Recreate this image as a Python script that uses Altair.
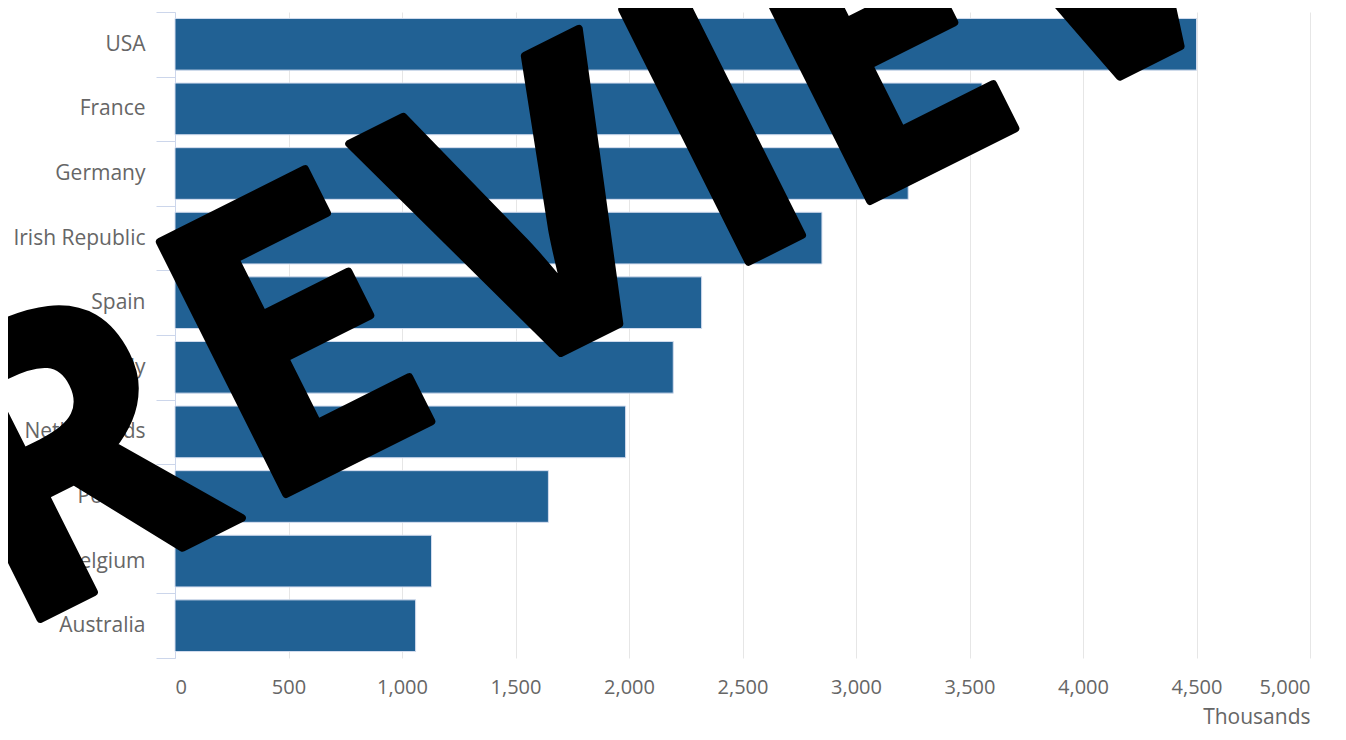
import altair as alt
import pandas as pd

countries = ["USA", "France", "Germany", "Irish Republic", "Spain", "Italy",
             "Netherlands", "Poland", "Belgium", "Australia"]
visits = [4500, 3555, 3230, 2850, 2320, 2195, 1985, 1645, 1130, 1060]

x_ticks = [0, 500, 1000, 1500, 2000, 2500, 3000, 3500, 4000, 4500, 5000]
x_title = "Thousands"

stamp_letters = ["R", "E", "V", "I", "E", "W"]

df = pd.DataFrame({"country": countries, "visits": visits})

FONT = "Open Sans"
GREY = "#666666"
AXISBLUE = "#ccd6eb"
HALF_GAP = 6.46  # half of the inner band gap (0.1 * step)

bars = alt.Chart(df).mark_bar(
    color="#216194", stroke="#d3dcee", strokeWidth=1
).encode(
    x=alt.X("visits:Q",
            scale=alt.Scale(domain=[0, 5000], nice=False, zero=True),
            axis=alt.Axis(values=x_ticks, format=",.0f", title=x_title,
                          grid=True, gridColor="#e6e6e6", gridWidth=1,
                          domain=False, ticks=False, tickSize=0,
                          labelPadding=19, labelFontSize=20, labelColor=GREY,
                          labelFont=FONT, titleFont=FONT, titleFontSize=21,
                          titleColor=GREY, titleFontWeight="normal",
                          titleAnchor="end", titleAlign="right",
                          titlePadding=9)),
    y=alt.Y("country:N", sort=countries,
            scale=alt.Scale(paddingInner=0.2, paddingOuter=0.1),
            axis=alt.Axis(title=None, bandPosition=1, tickExtra=True,
                          tickSize=19,
                          tickOffset=alt.ExprRef(
                              f"datum.extra ? {-HALF_GAP} : {HALF_GAP}"),
                          labelOffset=-HALF_GAP,
                          tickColor=AXISBLUE, domainColor=AXISBLUE,
                          labelPadding=11, labelFontSize=21, labelColor=GREY,
                          labelFont=FONT, grid=False)),
)

# watermark letters: (x offset, y offset from plot origin in px)
stamp_pos = [(-103, 458), (125, 342), (362, 220), (547, 130), (709, 49), (998, -95)]
layers = [bars]
for letter, (px, py) in zip(stamp_letters, stamp_pos):
    layers.append(
        alt.Chart(pd.DataFrame({"t": [letter]})).mark_text(
            font=FONT, fontSize=395, fontWeight="bold", color="black",
            stroke="black", strokeWidth=8, strokeJoin="round",
            align="center", baseline="middle", angle=333.4
        ).encode(x=alt.value(px), y=alt.value(py), text="t:N")
    )

chart = alt.layer(*layers).properties(
    width=1135, height=646,
    padding={"left": 167, "top": 4, "right": 28, "bottom": 70},
    autosize=alt.AutoSizeParams(type="none"),
).configure_view(stroke=None)

chart.save("out.html", embed_options={"renderer": "svg", "actions": False})
